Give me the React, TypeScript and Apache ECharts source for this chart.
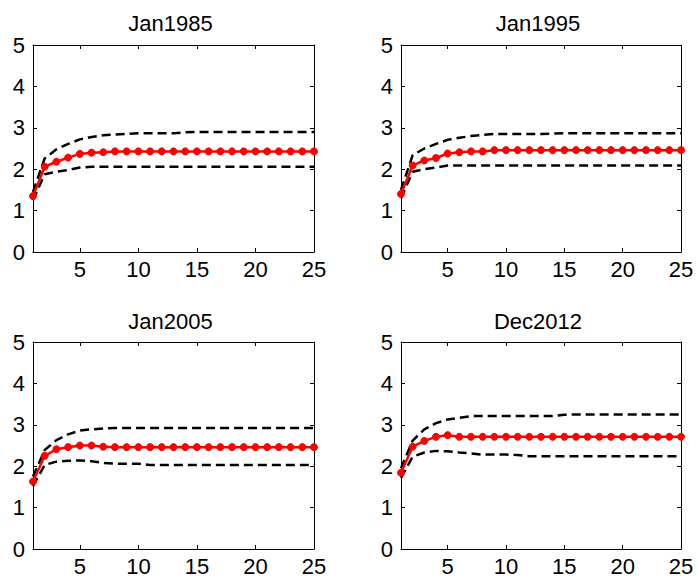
import React, { useEffect, useRef } from "react";
import * as echarts from "echarts";

const horizons = [1, 2, 3, 4, 5, 6, 7, 8, 9, 10, 11, 12, 13, 14, 15, 16, 17, 18, 19, 20, 21, 22, 23, 24, 25];
const xTickValues = [5, 10, 15, 20, 25];
const panelTitles = ["Jan1985", "Jan1995", "Jan2005", "Dec2012"];

const median1985 = [1.35, 2.06, 2.18, 2.28, 2.37, 2.40, 2.41, 2.43, 2.43, 2.43, 2.43, 2.43, 2.43, 2.43, 2.43, 2.43, 2.43, 2.43, 2.43, 2.43, 2.43, 2.43, 2.43, 2.43, 2.43];
const upper1985 = [1.45, 2.26, 2.48, 2.61, 2.72, 2.78, 2.82, 2.84, 2.85, 2.87, 2.87, 2.87, 2.87, 2.89, 2.90, 2.90, 2.90, 2.90, 2.90, 2.90, 2.90, 2.90, 2.90, 2.90, 2.90];
const lower1985 = [1.25, 1.88, 1.94, 1.98, 2.04, 2.06, 2.06, 2.06, 2.06, 2.06, 2.06, 2.06, 2.06, 2.06, 2.06, 2.06, 2.06, 2.06, 2.06, 2.06, 2.06, 2.06, 2.06, 2.06, 2.06];

const median1995 = [1.40, 2.09, 2.21, 2.27, 2.38, 2.41, 2.43, 2.43, 2.46, 2.46, 2.46, 2.46, 2.46, 2.46, 2.46, 2.46, 2.46, 2.46, 2.46, 2.46, 2.46, 2.46, 2.46, 2.46, 2.46];
const upper1995 = [1.50, 2.34, 2.50, 2.61, 2.71, 2.76, 2.80, 2.83, 2.85, 2.85, 2.85, 2.85, 2.85, 2.86, 2.87, 2.87, 2.87, 2.87, 2.87, 2.87, 2.87, 2.87, 2.87, 2.87, 2.87];
const lower1995 = [1.30, 1.94, 2.00, 2.04, 2.09, 2.09, 2.09, 2.09, 2.09, 2.09, 2.09, 2.09, 2.09, 2.09, 2.09, 2.09, 2.09, 2.09, 2.09, 2.09, 2.09, 2.09, 2.09, 2.09, 2.09];

const median2005 = [1.63, 2.25, 2.41, 2.46, 2.50, 2.50, 2.47, 2.46, 2.46, 2.46, 2.46, 2.46, 2.46, 2.46, 2.46, 2.46, 2.46, 2.46, 2.46, 2.46, 2.46, 2.46, 2.46, 2.46, 2.46];
const upper2005 = [1.75, 2.39, 2.63, 2.77, 2.86, 2.89, 2.91, 2.92, 2.92, 2.92, 2.92, 2.92, 2.92, 2.92, 2.92, 2.92, 2.92, 2.92, 2.92, 2.92, 2.92, 2.92, 2.92, 2.92, 2.92];
const lower2005 = [1.52, 2.03, 2.11, 2.13, 2.14, 2.12, 2.08, 2.06, 2.06, 2.06, 2.03, 2.03, 2.03, 2.03, 2.03, 2.03, 2.03, 2.03, 2.03, 2.03, 2.03, 2.03, 2.03, 2.03, 2.03];

const median2012 = [1.84, 2.47, 2.61, 2.71, 2.75, 2.71, 2.71, 2.71, 2.71, 2.71, 2.71, 2.71, 2.71, 2.71, 2.71, 2.71, 2.71, 2.71, 2.71, 2.71, 2.71, 2.71, 2.71, 2.71, 2.71];
const upper2012 = [1.95, 2.62, 2.89, 3.04, 3.13, 3.17, 3.21, 3.21, 3.21, 3.21, 3.21, 3.21, 3.21, 3.21, 3.24, 3.25, 3.25, 3.25, 3.25, 3.25, 3.25, 3.25, 3.25, 3.25, 3.25];
const lower2012 = [1.72, 2.23, 2.33, 2.37, 2.36, 2.33, 2.31, 2.28, 2.28, 2.28, 2.27, 2.24, 2.24, 2.24, 2.24, 2.24, 2.24, 2.24, 2.24, 2.24, 2.24, 2.24, 2.24, 2.24, 2.24];

const medians = [median1985, median1995, median2005, median2012];
const uppers = [upper1985, upper1995, upper2005, upper2012];
const lowers = [lower1985, lower1995, lower2005, lower2012];

const FONT = "'Liberation Sans', Arial, sans-serif";

export default function App() {
  const ref = useRef<HTMLDivElement>(null);

  useEffect(() => {
    if (!ref.current) return;
    const chart = echarts.init(ref.current, null, { renderer: "svg" });

    const grids = [
      { left: 33, top: 45, width: 281, height: 207 },
      { left: 401, top: 45, width: 280, height: 207 },
      { left: 33, top: 342, width: 281, height: 207 },
      { left: 401, top: 342, width: 280, height: 207 },
    ];
    const titleY = [23, 23, 321, 321];

    const xAxes: any[] = [];
    const yAxes: any[] = [];
    const series: any[] = [];
    const graphics: any[] = [];

    const axisLine = { show: true, onZero: false, lineStyle: { color: "#000", width: 1 } };

    grids.forEach((g, i) => {
      xAxes.push({
        type: "value",
        gridIndex: i,
        position: "bottom",
        min: 1,
        max: 25,
        axisLine,
        axisTick: { show: true, inside: true, length: 4, customValues: xTickValues, lineStyle: { color: "#000" } },
        axisLabel: { show: true, customValues: xTickValues, color: "#000", fontSize: 22, fontFamily: FONT, margin: 6 },
        splitLine: { show: false },
      });
      xAxes.push({
        type: "value",
        gridIndex: i,
        position: "top",
        min: 1,
        max: 25,
        axisLine,
        axisTick: { show: true, inside: true, length: 4, customValues: xTickValues, lineStyle: { color: "#000" } },
        axisLabel: { show: false },
        splitLine: { show: false },
      });
      yAxes.push({
        type: "value",
        gridIndex: i,
        position: "left",
        min: 0,
        max: 5,
        interval: 1,
        axisLine,
        axisTick: { show: true, inside: true, length: 4, lineStyle: { color: "#000" } },
        axisLabel: { show: true, color: "#000", fontSize: 22, fontFamily: FONT, margin: 8 },
        splitLine: { show: false },
      });
      yAxes.push({
        type: "value",
        gridIndex: i,
        position: "right",
        min: 0,
        max: 5,
        interval: 1,
        axisLine,
        axisTick: { show: true, inside: true, length: 4, lineStyle: { color: "#000" } },
        axisLabel: { show: false },
        splitLine: { show: false },
      });

      const xi = i * 2;
      const yi = i * 2;
      const dashed = (vals: number[]) => ({
        type: "line",
        xAxisIndex: xi,
        yAxisIndex: yi,
        data: horizons.map((h, k) => [h, vals[k]]),
        showSymbol: false,
        symbol: "none",
        lineStyle: { color: "#000", width: 2.5, type: [9, 5] },
        silent: true,
        z: 2,
      });
      series.push(dashed(uppers[i]));
      series.push(dashed(lowers[i]));
      series.push({
        type: "line",
        xAxisIndex: xi,
        yAxisIndex: yi,
        data: horizons.map((h, k) => [h, medians[i][k]]),
        symbol: "circle",
        symbolSize: 7,
        lineStyle: { color: "#ff0000", width: 2.5 },
        itemStyle: { color: "#ff0000", borderColor: "#ff0000", borderWidth: 1 },
        silent: true,
        z: 3,
      });

      graphics.push({
        type: "text",
        x: g.left + g.width / 2 - 3,
        y: titleY[i],
        style: {
          text: panelTitles[i],
          fill: "#000",
          font: `22px ${FONT}`,
          textAlign: "center",
          textVerticalAlign: "middle",
        },
      });
    });

    chart.setOption({
      animation: false,
      backgroundColor: "#fff",
      grid: grids,
      xAxis: xAxes,
      yAxis: yAxes,
      series,
      graphic: graphics,
    });

    return () => chart.dispose();
  }, []);

  return (
    <div
      ref={ref}
      style={{ position: "absolute", left: 0, top: 0, width: 697, height: 578 }}
    />
  );
}
